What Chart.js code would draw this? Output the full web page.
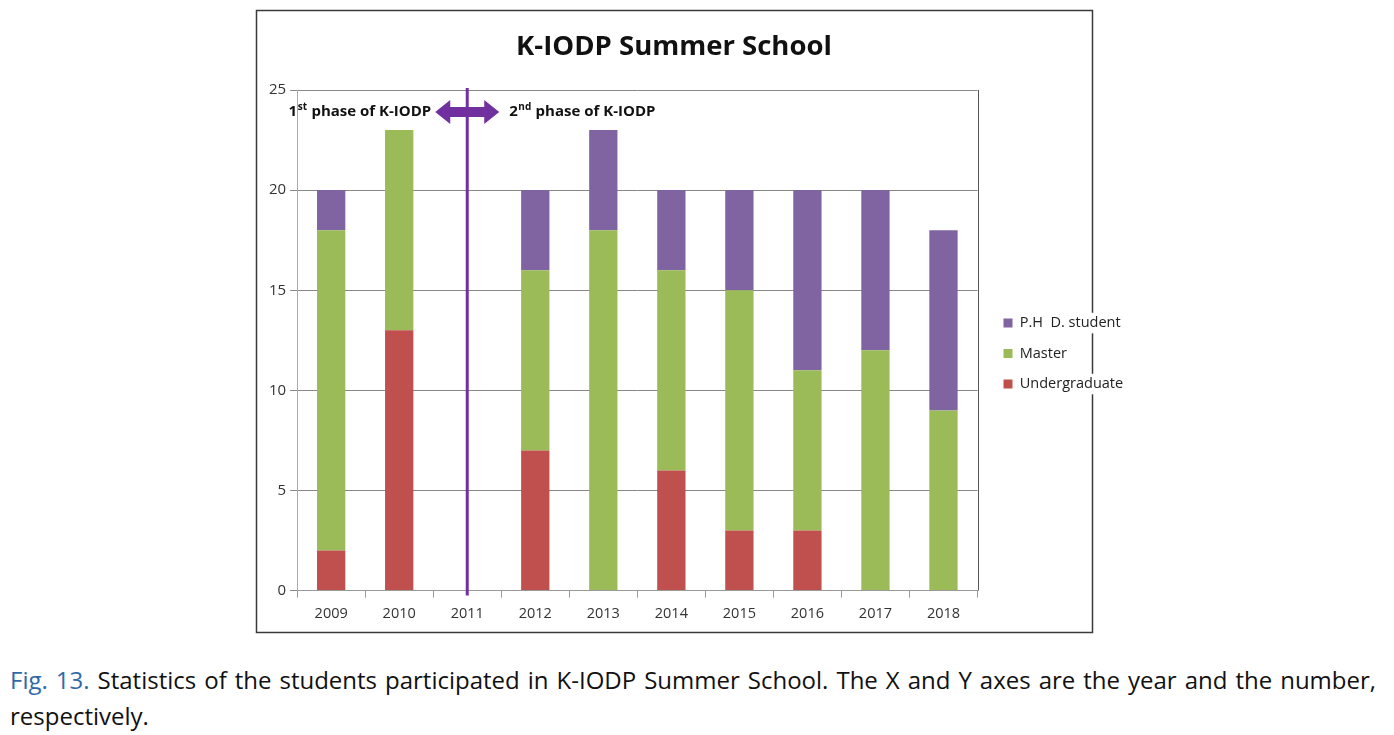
<!DOCTYPE html>
<html>
<head>
<meta charset="utf-8">
<script src="https://cdn.jsdelivr.net/npm/chart.js@4"></script>
<style>
  body { margin: 0; background: #fff; width: 1394px; height: 735px; overflow: hidden; position: relative; font-family: "Open Sans", sans-serif; }
  #wrap { position: absolute; left: 240px; top: 0; width: 896px; height: 645px; }
  #cap { position: absolute; left: 10px; top: 662px; width: 1366px; font-size: 24px; line-height: 36px; text-align: justify; color: #111; }
  #cap .fig { color: #2f6aa8; }
</style>
</head>
<body>
<div id="wrap"><canvas id="c" width="896" height="645"></canvas></div>
<div id="cap"><span class="fig">Fig. 13.</span> Statistics of the students participated in K-IODP Summer School. The X and Y axes are the year and the number, respectively.</div>
<script>
const years = ['2009', '2010', '2011', '2012', '2013', '2014', '2015', '2016', '2017', '2018'];
const undergrad = [2, 13, 0, 7, 0, 6, 3, 3, 0, 0];
const master = [16, 10, 0, 9, 18, 10, 12, 8, 12, 9];
const phd = [2, 0, 0, 4, 5, 4, 5, 9, 8, 9];
const yTicks = [0, 5, 10, 15, 20, 25];
const chartTitle = 'K-IODP Summer School';

const FONT = '"Open Sans", sans-serif';
const PURPLE = '#7030A0';

// frame, title, legend backgrounds, phase marker
const deco = {
  id: 'deco',
  beforeDraw(chart) {
    const c = chart.ctx;
    c.save();
    c.fillStyle = '#fff';
    c.fillRect(0, 0, chart.width, chart.height);
    c.strokeStyle = '#3a3a3a';
    c.lineWidth = 1.5;
    c.strokeRect(16.5, 10.5, 836, 622);
    c.fillStyle = '#fff';
    chart.legend.legendHitBoxes.forEach(h => {
      c.fillRect(h.left + 18, h.top - 3, h.width - 12, h.height + 6);
    });
    c.fillStyle = '#111';
    c.font = 'bold 27.5px ' + FONT;
    c.textAlign = 'center';
    c.textBaseline = 'middle';
    c.fillText(chartTitle, 434, 47);
    c.restore();
  },
  afterDatasetsDraw(chart) {
    const c = chart.ctx, a = chart.chartArea;
    const xs = chart.scales.x, ys = chart.scales.y;
    c.save();
    // right border of plot
    c.strokeStyle = '#555';
    c.lineWidth = 1;
    c.beginPath();
    c.moveTo(Math.round(a.right) + 0.5, a.top);
    c.lineTo(Math.round(a.right) + 0.5, a.bottom);
    c.stroke();

    const x = xs.getPixelForValue(2);
    c.strokeStyle = PURPLE;
    c.lineWidth = 3;
    c.beginPath();
    c.moveTo(x, a.top - 2);
    c.lineTo(x, a.bottom + 5);
    c.stroke();

    const y = ys.getPixelForValue(23.9);
    c.fillStyle = PURPLE;
    c.beginPath();
    c.moveTo(x - 32, y);
    c.lineTo(x - 17, y - 12);
    c.lineTo(x - 17, y - 5);
    c.lineTo(x + 17, y - 5);
    c.lineTo(x + 17, y - 12);
    c.lineTo(x + 32, y);
    c.lineTo(x + 17, y + 12);
    c.lineTo(x + 17, y + 5);
    c.lineTo(x - 17, y + 5);
    c.lineTo(x - 17, y + 12);
    c.closePath();
    c.fill();

    const big = 'bold 15px ' + FONT, small = 'bold 10px ' + FONT;
    function phase(num, sup, rest, left, alignRight) {
      c.font = big; const w1 = c.measureText(num).width, w3 = c.measureText(rest).width;
      c.font = small; const w2 = c.measureText(sup).width;
      let sx = alignRight ? left - (w1 + w2 + w3) : left;
      c.textBaseline = 'middle';
      c.fillStyle = '#111';
      c.font = big; c.fillText(num, sx, y);
      c.font = small; c.fillText(sup, sx + w1 + 0.5, y - 5);
      c.font = big; c.fillText(rest, sx + w1 + w2 + 1, y);
    }
    phase('1', 'st', ' phase of K-IODP', x - 37, true);
    phase('2', 'nd', ' phase of K-IODP', x + 42, false);
    c.restore();
  }
};

new Chart(document.getElementById('c'), {
  type: 'bar',
  data: {
    labels: years,
    datasets: [
      { label: 'Undergraduate', data: undergrad, backgroundColor: '#C0504D' },
      { label: 'Master', data: master, backgroundColor: '#9BBB59' },
      { label: 'P.H  D. student', data: phd, backgroundColor: '#8064A2' }
    ]
  },
  options: {
    responsive: false,
    animation: false,
    layout: { padding: { top: 90, left: 25, right: 4, bottom: 14 } },
    datasets: { bar: { categoryPercentage: 0.8, barPercentage: 0.52 } },
    scales: {
      x: {
        stacked: true,
        grid: { offset: true, drawOnChartArea: false, tickLength: 7, color: '#999' },
        border: { color: '#999' },
        ticks: { color: '#333', font: { family: FONT, size: 14.5 }, padding: 8 }
      },
      y: {
        stacked: true,
        min: 0,
        max: 25,
        afterBuildTicks(scale) { scale.ticks = yTicks.map(v => ({ value: v })); },
        grid: { color: '#888', tickLength: 7 },
        border: { color: '#aaa' },
        ticks: { color: '#333', font: { family: FONT, size: 15 }, padding: 4 }
      },
      // spacer between the plot and the legend
      gap: {
        type: 'linear',
        position: 'right',
        display: true,
        grid: { display: false },
        border: { display: false },
        ticks: { display: false },
        afterFit(scale) { scale.width = 10; }
      }
    },
    plugins: {
      title: { display: false },
      legend: {
        position: 'right',
        align: 'start',
        reverse: true,
        title: { display: true, text: ' ', padding: { top: 193 }, font: { size: 14 } },
        labels: {
          boxWidth: 9,
          boxHeight: 9,
          padding: 16,
          color: '#222',
          font: { family: FONT, size: 14.5 }
        }
      },
      tooltip: { enabled: false }
    }
  },
  plugins: [deco]
});
</script>
</body>
</html>
